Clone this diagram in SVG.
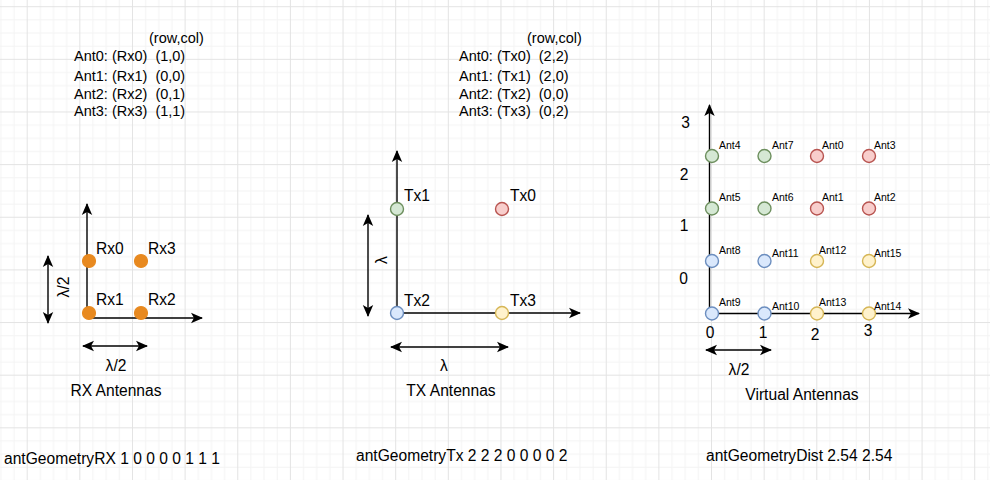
<svg xmlns="http://www.w3.org/2000/svg" width="990" height="480" viewBox="0 0 990 480">
<style>
text{font-family:"Liberation Sans",Arial,sans-serif;fill:#000}
.t{font-size:15.6px}
.l{font-size:14.5px}
.s{font-size:10.5px}
.ax{stroke:#000;stroke-width:1.4;fill:none}
.or{fill:#E8891F;stroke:#E8891F;stroke-width:1.2}
.gr{fill:#d5e8d4;stroke:#6d8f5e;stroke-width:1.4}
.rd{fill:#f8cecc;stroke:#b85450;stroke-width:1.4}
.bl{fill:#dae8fc;stroke:#6c8ebf;stroke-width:1.4}
.ye{fill:#fff2cc;stroke:#d6b656;stroke-width:1.4}
.m{text-anchor:middle}
</style>
<defs>
<pattern id="grid" patternUnits="userSpaceOnUse" x="26.7" y="6.2" width="52.64" height="52.64">
<rect x="13.16" y="0" width="1" height="52.64" fill="#f3f3f3"/>
<rect x="26.32" y="0" width="1" height="52.64" fill="#f3f3f3"/>
<rect x="39.48" y="0" width="1" height="52.64" fill="#f3f3f3"/>
<rect x="0" y="13.16" width="52.64" height="1" fill="#f3f3f3"/>
<rect x="0" y="26.32" width="52.64" height="1" fill="#f3f3f3"/>
<rect x="0" y="39.48" width="52.64" height="1" fill="#f3f3f3"/>
<rect x="0" y="0" width="1" height="52.64" fill="#e3e3e3"/>
<rect x="0" y="0" width="52.64" height="1" fill="#e3e3e3"/>
</pattern>
<marker id="arr" viewBox="0 0 12 12" refX="11" refY="6" markerWidth="12" markerHeight="12" markerUnits="userSpaceOnUse" orient="auto-start-reverse">
<path d="M0,0.8 L12,6 L0,11.2 L3,6 Z" fill="#000"/>
</marker>
</defs>
<rect width="990" height="480" fill="#fff"/>
<rect width="990" height="480" fill="url(#grid)"/>

<g id="connectors">
<!-- RX axes -->
<path class="ax" d="M87,318 L87,204" marker-end="url(#arr)"/>
<path class="ax" d="M87,318 L202,318" marker-end="url(#arr)"/>
<path class="ax" d="M48,256 L48,323" marker-start="url(#arr)" marker-end="url(#arr)"/>
<path class="ax" d="M83,346 L147,346" marker-start="url(#arr)" marker-end="url(#arr)"/>
<!-- TX axes -->
<path class="ax" d="M397,313 L397,151" marker-end="url(#arr)"/>
<path class="ax" d="M397,313 L580,313" marker-end="url(#arr)"/>
<path class="ax" d="M368,215 L368,316" marker-start="url(#arr)" marker-end="url(#arr)"/>
<path class="ax" d="M391,347 L508,347" marker-start="url(#arr)" marker-end="url(#arr)"/>
<!-- Virtual axes -->
<path class="ax" d="M709.5,313.5 L709.5,105" marker-end="url(#arr)"/>
<path class="ax" d="M709.5,313.5 L919,313.5" marker-end="url(#arr)"/>
<path class="ax" d="M706,350 L771,350" marker-start="url(#arr)" marker-end="url(#arr)"/>
</g>

<g id="rx-table">
<text class="l" x="149" y="43">(row,col)</text>
<text class="l" x="74" y="61" xml:space="preserve">Ant0: (Rx0)  (1,0)</text>
<text class="l" x="74" y="81" xml:space="preserve">Ant1: (Rx1)  (0,0)</text>
<text class="l" x="74" y="99" xml:space="preserve">Ant2: (Rx2)  (0,1)</text>
<text class="l" x="74" y="116" xml:space="preserve">Ant3: (Rx3)  (1,1)</text>
</g>
<g id="tx-table">
<text class="l" x="527" y="43">(row,col)</text>
<text class="l" x="459" y="61" xml:space="preserve">Ant0: (Tx0)  (2,2)</text>
<text class="l" x="459" y="81" xml:space="preserve">Ant1: (Tx1)  (2,0)</text>
<text class="l" x="459" y="99" xml:space="preserve">Ant2: (Tx2)  (0,0)</text>
<text class="l" x="459" y="116" xml:space="preserve">Ant3: (Tx3)  (0,2)</text>
</g>

<g id="rx0"><circle class="or" cx="89" cy="261" r="6.5"/><text class="t" x="96" y="254">Rx0</text></g>
<g id="rx3"><circle class="or" cx="141" cy="261" r="6.5"/><text class="t" x="148" y="254">Rx3</text></g>
<g id="rx1"><circle class="or" cx="89" cy="313" r="6.5"/><text class="t" x="96" y="305">Rx1</text></g>
<g id="rx2"><circle class="or" cx="141" cy="313" r="6.5"/><text class="t" x="148" y="305">Rx2</text></g>
<g id="rx-labels">
<text class="t m" transform="translate(69,287) rotate(-90)">λ/2</text>
<text class="t m" x="116" y="371">λ/2</text>
<text class="t m" x="116" y="396">RX Antennas</text>
</g>

<g id="tx1"><circle class="gr" cx="397" cy="209" r="6.5"/><text class="t" x="404" y="201">Tx1</text></g>
<g id="tx0"><circle class="rd" cx="502" cy="209" r="6.5"/><text class="t" x="510" y="201">Tx0</text></g>
<g id="tx2"><circle class="bl" cx="397" cy="313" r="6.5"/><text class="t" x="404" y="306">Tx2</text></g>
<g id="tx3"><circle class="ye" cx="502" cy="313" r="6.5"/><text class="t" x="510" y="306">Tx3</text></g>
<g id="tx-labels">
<text class="t m" transform="translate(387,260) rotate(-90)">λ</text>
<text class="t m" x="444" y="371">λ</text>
<text class="t m" x="451" y="396">TX Antennas</text>
</g>

<g id="ant4"><circle class="gr" cx="712" cy="156" r="6.5"/><text class="s" x="719" y="149">Ant4</text></g>
<g id="ant7"><circle class="gr" cx="764.5" cy="156" r="6.5"/><text class="s" x="772" y="149">Ant7</text></g>
<g id="ant0"><circle class="rd" cx="817" cy="156" r="6.5"/><text class="s" x="822" y="149">Ant0</text></g>
<g id="ant3"><circle class="rd" cx="869" cy="156" r="6.5"/><text class="s" x="874" y="149">Ant3</text></g>
<g id="ant5"><circle class="gr" cx="712" cy="208.5" r="6.5"/><text class="s" x="719" y="201">Ant5</text></g>
<g id="ant6"><circle class="gr" cx="764.5" cy="208.5" r="6.5"/><text class="s" x="772" y="201">Ant6</text></g>
<g id="ant1"><circle class="rd" cx="817" cy="208.5" r="6.5"/><text class="s" x="822" y="201">Ant1</text></g>
<g id="ant2"><circle class="rd" cx="869" cy="208.5" r="6.5"/><text class="s" x="874" y="201">Ant2</text></g>
<g id="ant8"><circle class="bl" cx="712" cy="261" r="6.5"/><text class="s" x="719" y="254">Ant8</text></g>
<g id="ant11"><circle class="bl" cx="764.5" cy="261" r="6.5"/><text class="s" x="772" y="257">Ant11</text></g>
<g id="ant12"><circle class="ye" cx="817" cy="261" r="6.5"/><text class="s" x="819" y="254">Ant12</text></g>
<g id="ant15"><circle class="ye" cx="869" cy="261" r="6.5"/><text class="s" x="874" y="257">Ant15</text></g>
<g id="ant9"><circle class="bl" cx="712" cy="313.5" r="6.5"/><text class="s" x="719" y="306">Ant9</text></g>
<g id="ant10"><circle class="bl" cx="764.5" cy="313.5" r="6.5"/><text class="s" x="772" y="310">Ant10</text></g>
<g id="ant13"><circle class="ye" cx="817" cy="313.5" r="6.5"/><text class="s" x="819" y="306">Ant13</text></g>
<g id="ant14"><circle class="ye" cx="869" cy="313.5" r="6.5"/><text class="s" x="874" y="310">Ant14</text></g>

<g id="virtual-labels">
<text class="t m" x="685.5" y="128">3</text>
<text class="t m" x="684" y="180">2</text>
<text class="t m" x="684" y="231">1</text>
<text class="t m" x="683.5" y="284">0</text>
<text class="t m" x="710" y="338">0</text>
<text class="t m" x="763" y="338">1</text>
<text class="t m" x="815" y="340">2</text>
<text class="t m" x="868" y="336">3</text>
<text class="t m" x="739" y="375">λ/2</text>
<text class="t m" x="802" y="400">Virtual Antennas</text>
</g>

<g id="geometry">
<text class="t" x="4" y="464">antGeometryRX 1 0 0 0 0 1 1 1</text>
<text class="t" x="356" y="461">antGeometryTx 2 2 2 0 0 0 0 2</text>
<text class="t" x="706" y="461">antGeometryDist 2.54 2.54</text>
</g>
</svg>
